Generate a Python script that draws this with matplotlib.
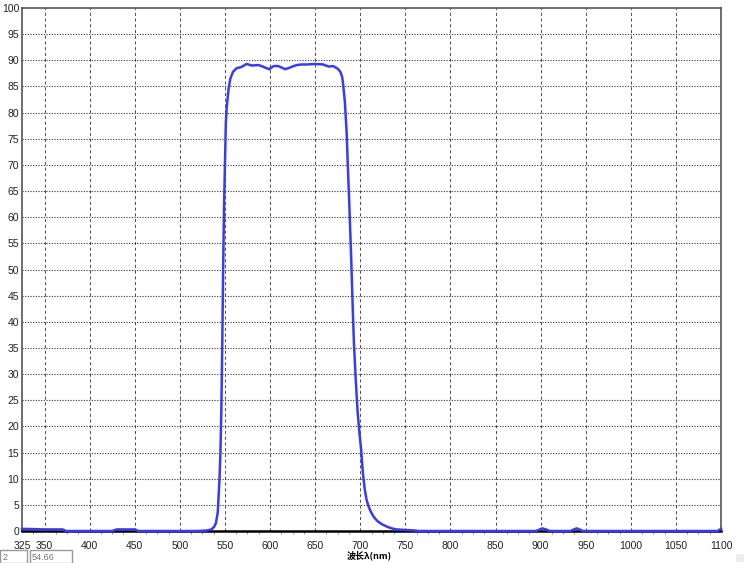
import numpy as np
import matplotlib
matplotlib.use("Agg")
import matplotlib.pyplot as plt
from matplotlib.patches import Rectangle
from matplotlib.ticker import MultipleLocator


# transmission curve (wavelength nm, %T)
wavelength = [325, 330, 350, 370, 374, 380, 425, 430, 450, 454, 500, 520, 530,
              535, 538, 540, 542, 544, 545, 546, 547, 548, 549, 550, 551, 552,
              554, 556, 559, 563, 568, 574, 580, 587, 592, 596, 599, 604, 609,
              613, 617, 622, 626, 630, 635, 641, 650, 659, 665, 670, 675, 678,
              680, 681, 683, 685, 686, 688, 690, 692, 693, 695, 697, 699, 701,
              703, 705, 707, 709, 712, 715, 719, 724, 730, 735, 740, 750, 760,
              765, 800, 850, 895, 899, 902, 906, 910, 933, 937, 940, 943, 947,
              1000, 1050, 1096, 1100]
transmission = [0.4, 0.4, 0.3, 0.3, 0.0, 0.0, 0.0, 0.3, 0.3, 0.0, 0.0, 0.0, 0.1,
                0.3, 0.8, 1.5, 3.5, 10, 15, 23, 35, 50, 62, 70, 78, 81,
                84.5, 86.5, 87.8, 88.5, 88.7, 89.3, 89.0, 89.1, 88.8, 88.5, 88.3, 88.9, 88.9,
                88.6, 88.3, 88.6, 88.9, 89.1, 89.2, 89.2, 89.3, 89.2, 88.8, 88.9, 88.4, 87.8,
                86.8, 85.5, 82, 76, 71, 62, 52, 41, 36, 29, 23, 19, 15.5,
                11, 8, 6, 4.8, 3.6, 2.7, 1.9, 1.3, 0.8, 0.5, 0.3, 0.2, 0.1,
                0.0, 0.0, 0.0, 0.0, 0.3, 0.5, 0.3, 0.0, 0.0, 0.3, 0.5, 0.3, 0.0,
                0.0, 0.0, 0.0, 0.4]

x_ticks = [325, 350, 400, 450, 500, 550, 600, 650, 700, 750, 800, 850, 900,
           950, 1000, 1050, 1100]
y_ticks = list(range(0, 101, 5))

status_index = "2"
status_value = "54.66"

num_font = ["Liberation Sans Narrow", "Liberation Sans", "DejaVu Sans"]
cjk_font = ["Noto Sans CJK SC", "DejaVu Sans"]

fig = plt.figure(figsize=(7.5, 5.63), dpi=100)
ax = fig.add_axes([22 / 750, 1 - 531 / 563, 699 / 750, 523 / 563])

ax.plot(wavelength, transmission, color="#3a3af0", linewidth=1.8,
        solid_joinstyle="round", clip_on=False, zorder=3)

ax.set_xlim(325, 1100)
ax.set_ylim(0, 100)
ax.set_xticks(x_ticks)
ax.set_yticks(y_ticks)
ax.xaxis.set_minor_locator(MultipleLocator(12.5))

# grid: dashed verticals, dotted horizontals
for xv in x_ticks[1:-1]:
    ax.axvline(xv, color="#555555", linewidth=0.75, linestyle=(0, (3, 2.5)), zorder=1)
for yv in y_ticks[1:-1]:
    ax.axhline(yv, color="#333333", linewidth=0.8, linestyle=(0, (1, 1.4)), zorder=1)

for side in ["top", "left", "right"]:
    ax.spines[side].set_color("#555555")
    ax.spines[side].set_linewidth(1.2)
ax.spines["bottom"].set_color("black")
ax.spines["bottom"].set_linewidth(1.8)

ax.tick_params(axis="both", which="major", length=0)
ax.tick_params(axis="x", which="major", pad=7)
ax.tick_params(axis="y", which="major", pad=2)
ax.tick_params(axis="x", which="minor", length=2.5, color="#888888", direction="out")
for lbl in ax.get_xticklabels() + ax.get_yticklabels():
    lbl.set_family(num_font)
    lbl.set_fontsize(7.5)
    lbl.set_color("#222222")

ax.set_xlabel("波长λ(nm)", family=cjk_font, fontsize=6.5, fontweight="bold",
              labelpad=0)
ax.xaxis.set_label_coords(0.497, -0.038)

# little status boxes in the bottom-left corner
fig.patches.append(Rectangle((0, 0), 27 / 750, 13 / 563, transform=fig.transFigure,
                             facecolor="white", edgecolor="#9a9a9a", linewidth=1))
fig.patches.append(Rectangle((30 / 750, 0), 42 / 750, 13 / 563, transform=fig.transFigure,
                             facecolor="white", edgecolor="#9a9a9a", linewidth=1))
fig.text(3 / 750, 6 / 563, status_index, fontsize=6.5, color="#777777",
         family=num_font, va="center")
fig.text(32 / 750, 6 / 563, status_value, fontsize=6.5, color="#777777",
         family=num_font, va="center")
fig.patches.append(Rectangle((736 / 750, 1 / 563), 8 / 750, 8 / 563,
                             transform=fig.transFigure, facecolor="#eeeeee",
                             edgecolor="none"))

fig.savefig("out.png", dpi=100)
